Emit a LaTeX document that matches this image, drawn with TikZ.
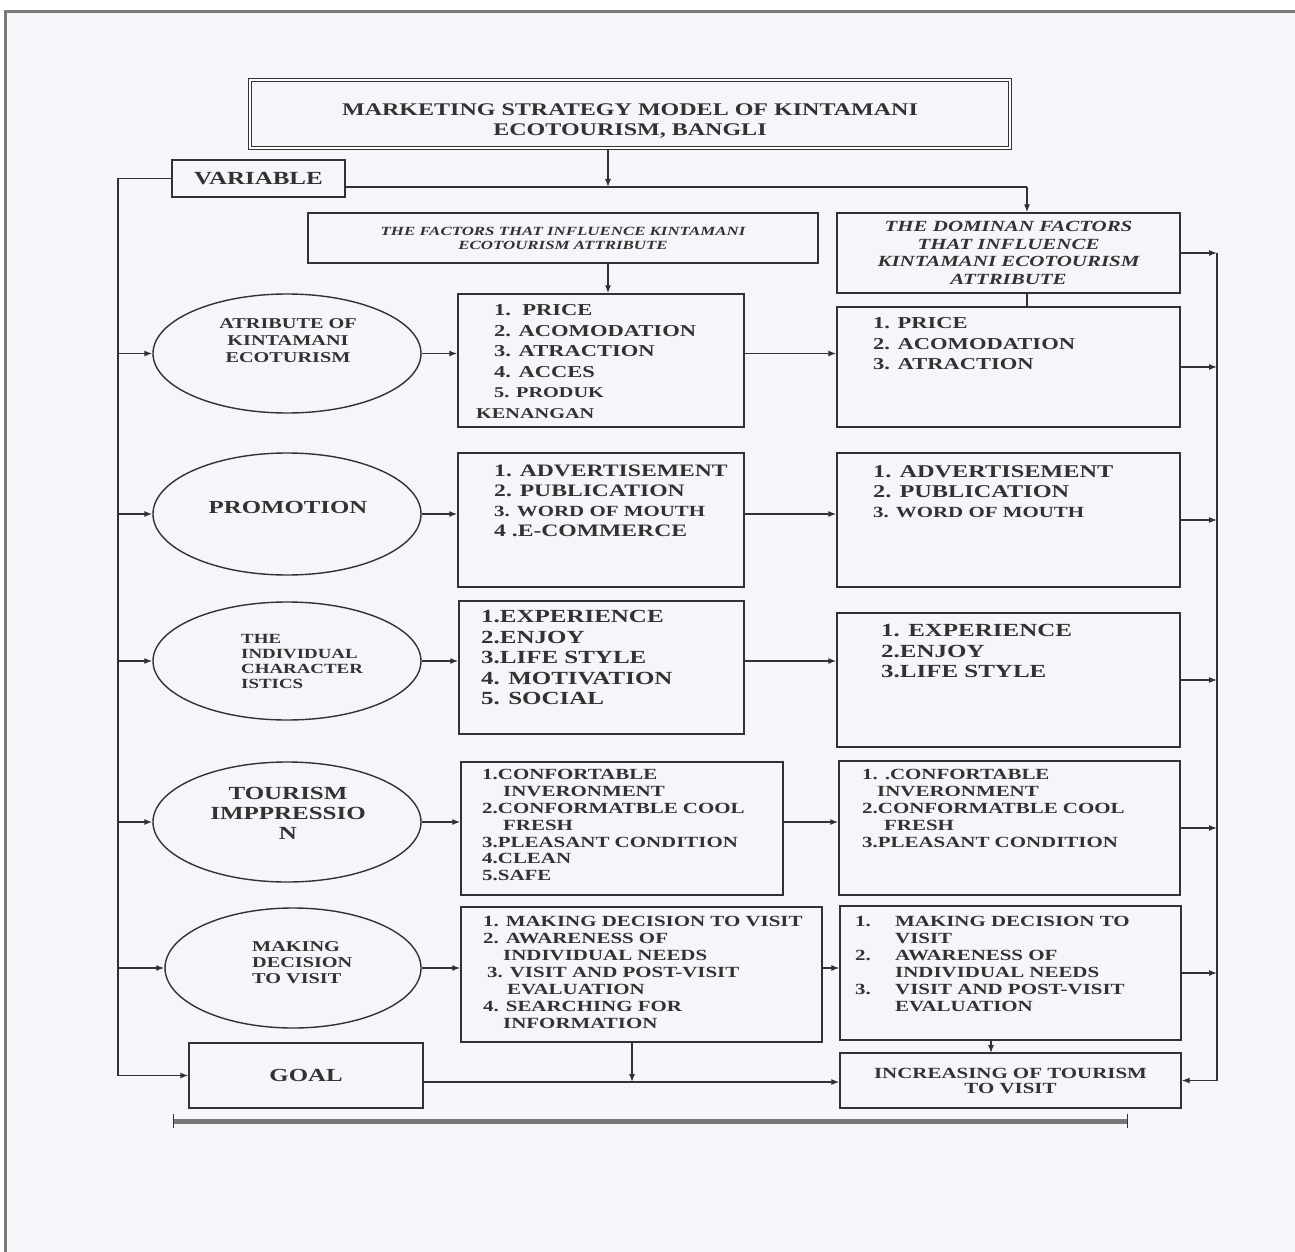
\documentclass[tikz,border=0pt]{standalone}
\usepackage{fontspec}
\setmainfont[FakeStretch=1.35]{Liberation Serif}
\usetikzlibrary{arrows.meta,shapes.geometric}
\definecolor{ink}{RGB}{50,50,50}
\definecolor{paper}{RGB}{244,246,250}
\definecolor{edge}{RGB}{120,120,120}
\newcommand\fsz[2]{\fontsize{#1}{#2}\selectfont\bfseries}

\begin{document}
\begin{tikzpicture}[
  x=1pt, y=-1pt,
  >={Latex[length=8pt,width=6pt]},
  every node/.style={text=ink, inner sep=0pt},
  box/.style={draw=ink, line width=1.4pt, align=center},
  oval/.style={ellipse, draw=ink, line width=1.4pt},
  list/.style={anchor=north west, align=left},
  link/.style={draw=ink, line width=1.3pt}
]
\useasboundingbox (0,0) rectangle (1295,1252);
\fill[white] (0,0) rectangle (1295,1252);
\fill[paper] (5,12) rectangle (1295,1252);
\draw[edge, line width=3pt] (5,1252) -- (5,12) -- (1295,12);

\node[box, double, double distance=1.2pt, minimum width=760, minimum height=68] (title) at (630,114) {};
\node[font=\fsz{17.8}{20}, align=center] (titlet) at (630,121) {MARKETING STRATEGY MODEL OF KINTAMANI\\ECOTOURISM, BANGLI};
\node[box, minimum width=173, minimum height=37, font=\fsz{18.5}{20}] (var) at (258.5,178.5) {VARIABLE};
\node[box, minimum width=510, minimum height=50, font=\fsz{12.5}{14}\itshape] (fac) at (563,238) {THE FACTORS THAT INFLUENCE KINTAMANI\\ECOTOURISM ATTRIBUTE};
\node[box, minimum width=343, minimum height=80, font=\fsz{15.5}{17.5}\itshape] (dom) at (1008.5,253) {THE DOMINAN FACTORS\\THAT INFLUENCE\\KINTAMANI ECOTOURISM\\ATTRIBUTE};

\node[oval, minimum width=268, minimum height=119] (e1) at (287,353.5) {};
\node[oval, minimum width=268, minimum height=122] (e2) at (287,514) {};
\node[oval, minimum width=268, minimum height=118] (e3) at (287,661) {};
\node[oval, minimum width=268, minimum height=120] (e4) at (287,822) {};
\node[oval, minimum width=256, minimum height=120] (e5) at (293,968) {};

\node[box, minimum width=286, minimum height=133] (mid1) at (601,360.5) {};
\node[box, minimum width=286, minimum height=134] (mid2) at (601,520) {};
\node[box, minimum width=285, minimum height=133] (mid3) at (601.5,667.5) {};
\node[box, minimum width=322, minimum height=133] (mid4) at (622,828.5) {};
\node[box, minimum width=361, minimum height=135] (mid5) at (641.5,974.5) {};

\node[box, minimum width=343, minimum height=120] (rt1) at (1008.5,367) {};
\node[box, minimum width=343, minimum height=134] (rt2) at (1008.5,520) {};
\node[box, minimum width=343, minimum height=134] (rt3) at (1008.5,680) {};
\node[box, minimum width=341, minimum height=134] (rt4) at (1009.5,828) {};
\node[box, minimum width=341, minimum height=134] (rt5) at (1010.5,973) {};

\node[box, minimum width=234, minimum height=65, font=\fsz{18.4}{20}] (goal) at (306,1075.5) {GOAL};
\node[box, minimum width=341, minimum height=55, font=\fsz{15.5}{15}] (inc) at (1010.5,1080.5) {INCREASING OF TOURISM\\TO VISIT};

\node[font=\fsz{15}{17}, align=center] (e1t) at (288,341) {ATRIBUTE OF\\KINTAMANI\\ECOTURISM};
\node[font=\fsz{18.4}{20}] (e2t) at (288,507) {PROMOTION};
\node[list, font=\fsz{14}{15}] (e3t) at (241,634.5) {THE\\INDIVIDUAL\\CHARACTER\\ISTICS};
\node[font=\fsz{18.5}{20}, align=center, anchor=north] (e4t) at (288,787.4) {TOURISM\\IMPPRESSIO\\N};
\node[list, font=\fsz{15}{16}] (e5t) at (252,941.8) {MAKING\\DECISION\\TO VISIT};

\node[list, font=\fsz{16.7}{20.5}] (mid1t) at (476,304.6) {\hspace*{18pt}1.\ \ PRICE\\ \hspace*{18pt}2. ACOMODATION\\ \hspace*{18pt}3. ATRACTION\\ \hspace*{18pt}4. ACCES\\ {\fontsize{15}{20.5}\selectfont\hspace*{18pt}5. PRODUK}\\ {\fontsize{15}{20.5}\selectfont KENANGAN}};
\node[list, font=\fsz{17.5}{20}] (mid2t) at (494,465) {1. ADVERTISEMENT\\2. PUBLICATION\\{\fontsize{15.5}{20}\selectfont 3. WORD OF MOUTH}\\4 .E-COMMERCE};
\node[list, font=\fsz{18.5}{20.5}] (mid3t) at (481,610.4) {1.EXPERIENCE\\2.ENJOY\\3.LIFE STYLE\\4. MOTIVATION\\5. SOCIAL};
\node[list, font=\fsz{15.5}{16.8}] (mid4t) at (482,769.5) {1.CONFORTABLE\\ \hspace*{21pt}INVERONMENT\\2.CONFORMATBLE COOL\\ \hspace*{21pt}FRESH\\3.PLEASANT CONDITION\\4.CLEAN\\5.SAFE};
\node[list, font=\fsz{15.5}{17}] (mid5t) at (483,916.5) {1. MAKING DECISION TO VISIT\\2. AWARENESS OF\\ \hspace*{20pt}INDIVIDUAL NEEDS\\ \hspace*{4pt}3. VISIT AND POST-VISIT\\ \hspace*{24pt}EVALUATION\\4. SEARCHING FOR\\ \hspace*{20pt}INFORMATION};

\node[list, font=\fsz{16.7}{20.5}] (rt1t) at (873,317.6) {1. PRICE\\2. ACOMODATION\\3. ATRACTION};
\node[list, font=\fsz{18}{20}] (rt2t) at (873,465) {1. ADVERTISEMENT\\2. PUBLICATION\\{\fontsize{15.5}{20}\selectfont 3. WORD OF MOUTH}};
\node[list, font=\fsz{18.5}{20.5}] (rt3t) at (881,624.4) {1. EXPERIENCE\\2.ENJOY\\3.LIFE STYLE};
\node[list, font=\fsz{15.5}{16.8}] (rt4t) at (862,769.5) {1. .CONFORTABLE\\ \hspace*{15pt}INVERONMENT\\2.CONFORMATBLE COOL\\ \hspace*{22pt}FRESH\\3.PLEASANT CONDITION};
\node[list, font=\fsz{15.5}{17}] (rt5t) at (855,916.5) {\makebox[40pt][l]{1.}MAKING DECISION TO\\ \hspace*{40pt}VISIT\\ \makebox[40pt][l]{2.}AWARENESS OF\\ \hspace*{40pt}INDIVIDUAL NEEDS\\ \makebox[40pt][l]{3.}VISIT AND POST-VISIT\\ \hspace*{40pt}EVALUATION};

\coordinate (jv) at (608,187);
\coordinate (jd) at (1027,187);
\coordinate (lbus) at (118,178.5);
\coordinate (rbus) at (1217,253);
\coordinate (jg) at (632,1082);
\coordinate (ji) at (991,1053);

\draw[link,->] (title.south -| jv) -- (jv);
\draw[link] (var.east |- jv) -- (jd);
\draw[link,->] (jd) -- (jd |- dom.north);
\draw[link,->] (fac.south -| jv) -- (mid1.north -| jv);
\draw[link] (dom.south -| jd) -- (rt1.north -| jd);
\draw[link,->] (dom.east) -- (rbus);
\draw[link,->] (rbus) |- (inc.east);
\draw[link,->] (var.west) -- (lbus) |- (goal.west);
\foreach \r in {1,...,5} {
  \draw[link,->] (e\r.west -| lbus) -- (e\r.west);
  \draw[link,->] (e\r.east) -- (e\r.east -| mid\r.west);
  \draw[link,->] (mid\r.east |- e\r.east) -- (e\r.east -| rt\r.west);
  \draw[link,->] (rt\r.east) -- (rt\r.east -| rbus);
}
\draw[link,->] (mid5.south -| jg) -- (jg);
\draw[link,->] (goal.east |- jg) -- (inc.west |- jg);
\draw[link,->] (rt5.south -| ji) -- (ji);

\draw[edge, line width=5pt] (173,1121) -- (1127,1121);
\draw[ink, line width=1pt] (173,1114) -- (173,1128) (1127,1114) -- (1127,1128);
\end{tikzpicture}
\end{document}
